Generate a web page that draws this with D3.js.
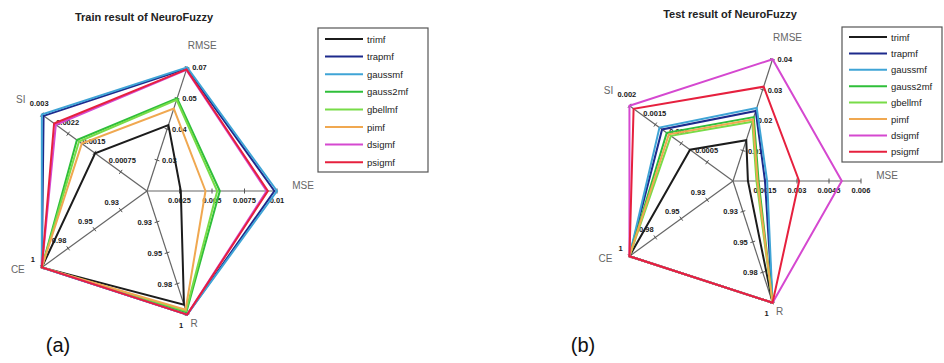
<!DOCTYPE html>
<html>
<head>
<meta charset="utf-8">
<script src="https://cdn.jsdelivr.net/npm/d3@7"></script>
<style>
  body { margin: 0; background: #fff; }
  text { font-family: "Liberation Sans", Arial, sans-serif; }
</style>
</head>
<body>
<svg id="chart" width="944" height="363"></svg>
<script>
// axes go counter-clockwise starting from MSE on the right
const axisNames = ['MSE', 'RMSE', 'SI', 'CE', 'R'];
const seriesNames = ['trimf', 'trapmf', 'gaussmf', 'gauss2mf', 'gbellmf', 'pimf', 'dsigmf', 'psigmf'];
const seriesColors = ['#1c1c1c', '#1d2a8c', '#3fa4d6', '#2fbf3a', '#78dc48', '#f0a850', '#d548d0', '#e6203e'];

// train chart
const trainDomains = [[0, 0.01], [0.01, 0.07], [0, 0.003], [0.9, 1], [0.9, 1]];
const trainTickLabels = [
  ['0.0025', '0.005', '0.0075', '0.01'],
  ['0.03', '0.04', '0.05', '0.07'],
  ['0.00075', '0.0015', '0.0022', '0.003'],
  ['0.93', '0.95', '0.98', '1'],
  ['0.93', '0.95', '0.98', '1'],
];
// [MSE, RMSE, SI, CE, R] for each series
const trainValues = [
  [0.0026, 0.042, 0.00148, 1, 0.992],
  [0.0098, 0.0694, 0.00295, 1, 1],
  [0.01, 0.07, 0.003, 1, 1],
  [0.0056, 0.055, 0.002, 1, 0.998],
  [0.0054, 0.0542, 0.00194, 1, 0.997],
  [0.0045, 0.05, 0.00186, 1, 0.996],
  [0.0092, 0.0688, 0.0026, 1, 1],
  [0.0093, 0.069, 0.00265, 1, 1],
];

// test chart
const testDomains = [[0, 0.006], [0, 0.04], [0, 0.002], [0.9, 1], [0.9, 1]];
const testTickLabels = [
  ['0.0015', '0.003', '0.0045', '0.006'],
  ['0.01', '0.02', '0.03', '0.04'],
  ['0.0005', '0.001', '0.0015', '0.002'],
  ['0.93', '0.95', '0.98', '1'],
  ['0.93', '0.95', '0.98', '1'],
];
const testValues = [
  [0.0007, 0.0134, 0.00083, 1, 1],
  [0.0015, 0.023, 0.00137, 1, 1],
  [0.0016, 0.024, 0.00142, 1, 1],
  [0.0012, 0.021, 0.00128, 1, 1],
  [0.0011, 0.0195, 0.0012, 1, 1],
  [0.00115, 0.0202, 0.00124, 1, 1],
  [0.0051, 0.04, 0.002, 1, 1],
  [0.0031, 0.031, 0.00192, 1, 1],
];

const svg = d3.select('#chart');

// angle clockwise from 12 o'clock (what d3.lineRadial wants)
const angle = (i) => Math.PI / 2 - (i * 2 * Math.PI) / 5;
const polar = (a, r) => [r * Math.sin(a), -r * Math.cos(a)];

// tick label placement per axis
const tickLabelPos = [
  { anchor: 'middle', dx: 0, dy: 12 },
  { anchor: 'start', dx: 5, dy: 3 },
  { anchor: 'start', dx: -12, dy: -9 },
  { anchor: 'middle', dx: -9, dy: -5 },
  { anchor: 'end', dx: -5, dy: 3 },
];
const axisNamePos = [[26, -2], [15, -18], [-21, -12], [-24, 6], [7, 12]];

function drawRadar(cfg) {
  const g = svg.append('g').attr('transform', `translate(${cfg.cx}, ${cfg.cy})`);

  const rScales = cfg.domains.map((d) =>
    d3.scaleLinear().domain(d).range([0, cfg.radius])
  );

  // spokes
  g.selectAll('line.spoke')
    .data(axisNames)
    .join('line')
    .attr('class', 'spoke')
    .attr('x1', 0)
    .attr('y1', 0)
    .attr('x2', (d, i) => polar(angle(i), cfg.radius)[0])
    .attr('y2', (d, i) => polar(angle(i), cfg.radius)[1])
    .attr('stroke', '#666')
    .attr('stroke-width', 1.2);

  // ticks + labels
  axisNames.forEach((name, i) => {
    const a = angle(i);
    const dom = cfg.domains[i];
    const ticks = d3.range(1, 5).map((k) => dom[0] + ((dom[1] - dom[0]) * k) / 4);
    const perp = [Math.cos(a), Math.sin(a)];
    const ag = g.append('g');
    ticks.forEach((v, k) => {
      const [px, py] = polar(a, rScales[i](v));
      ag.append('line')
        .attr('x1', px - perp[0] * 2.5)
        .attr('y1', py - perp[1] * 2.5)
        .attr('x2', px + perp[0] * 2.5)
        .attr('y2', py + perp[1] * 2.5)
        .attr('stroke', '#555')
        .attr('stroke-width', 1);
      let pos = tickLabelPos[i];
      if (i === 4 && k === 3) pos = { anchor: 'middle', dx: -6, dy: 13 };
      ag.append('text')
        .attr('x', px + pos.dx)
        .attr('y', py + pos.dy)
        .attr('text-anchor', pos.anchor)
        .attr('font-size', 7.5)
        .attr('font-weight', 'bold')
        .attr('fill', '#1a1a1a')
        .text(cfg.tickLabels[i][k]);
    });
    const [tx, ty] = polar(a, cfg.radius);
    g.append('text')
      .attr('x', tx + axisNamePos[i][0])
      .attr('y', ty + axisNamePos[i][1])
      .attr('text-anchor', 'middle')
      .attr('font-size', 10)
      .attr('fill', '#666')
      .text(name);
  });

  const line = d3
    .lineRadial()
    .angle((d, i) => angle(i))
    .radius((d, i) => rScales[i](d))
    .curve(d3.curveLinearClosed);

  g.selectAll('path.series')
    .data(cfg.values)
    .join('path')
    .attr('class', 'series')
    .attr('d', line)
    .attr('fill', 'none')
    .attr('stroke', (d, i) => seriesColors[i])
    .attr('stroke-width', 2)
    .attr('stroke-linejoin', 'miter');

  svg.append('text')
    .attr('x', cfg.cx + cfg.titleDx)
    .attr('y', cfg.titleY)
    .attr('text-anchor', 'middle')
    .attr('font-size', 11)
    .attr('font-weight', 'bold')
    .attr('fill', '#222')
    .text(cfg.title);

  // legend
  const lg = svg.append('g').attr('transform', `translate(${cfg.legend.x}, ${cfg.legend.y})`);
  lg.append('rect')
    .attr('width', cfg.legend.w)
    .attr('height', cfg.legend.h)
    .attr('fill', '#fff')
    .attr('stroke', '#555')
    .attr('stroke-width', 1.2);
  const items = lg.selectAll('g.item')
    .data(seriesNames)
    .join('g')
    .attr('class', 'item')
    .attr('transform', (d, i) => `translate(0, ${cfg.legend.top + i * cfg.legend.step})`);
  items.append('line')
    .attr('x1', 7)
    .attr('x2', 45)
    .attr('stroke', (d, i) => seriesColors[i])
    .attr('stroke-width', 2);
  items.append('text')
    .attr('x', 49)
    .attr('y', 3.5)
    .attr('font-size', 9.5)
    .attr('fill', '#222')
    .text((d) => d);

  svg.append('text')
    .attr('x', cfg.capX)
    .attr('y', 352)
    .attr('text-anchor', 'middle')
    .attr('font-family', '"Liberation Serif", "Times New Roman", serif')
    .attr('font-size', 20)
    .attr('fill', '#111')
    .text(cfg.caption);
}

drawRadar({
  cx: 147, cy: 191, radius: 130,
  domains: trainDomains, tickLabels: trainTickLabels, values: trainValues,
  title: 'Train result of NeuroFuzzy', titleDx: -3, titleY: 21,
  legend: { x: 318, y: 28, w: 110, h: 144, top: 11, step: 17.6 },
  caption: '(a)', capX: 58,
});

drawRadar({
  cx: 733, cy: 181, radius: 128,
  domains: testDomains, tickLabels: testTickLabels, values: testValues,
  title: 'Test result of NeuroFuzzy', titleDx: -3, titleY: 18,
  legend: { x: 842, y: 27, w: 100, h: 135, top: 10, step: 16.4 },
  caption: '(b)', capX: 583,
});
</script>
</body>
</html>
